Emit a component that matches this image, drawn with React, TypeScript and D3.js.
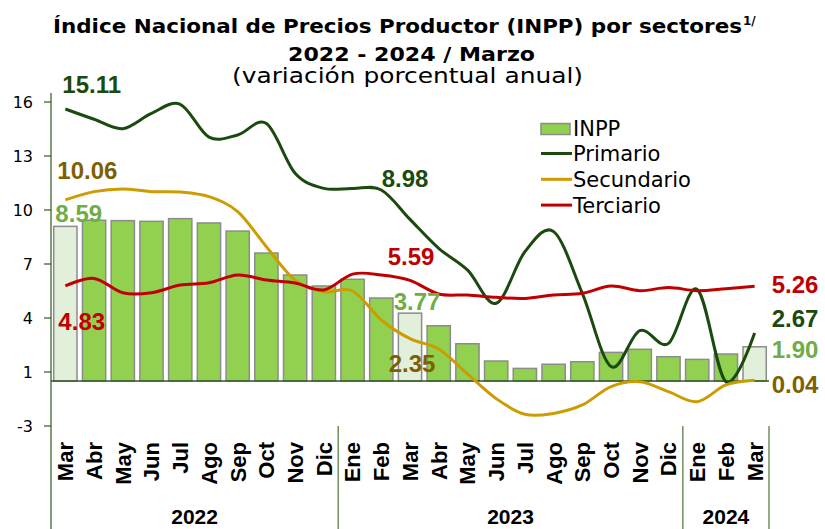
import React from 'react';
import * as d3 from 'd3';

// months shown on the category axis (Mar 2022 .. Mar 2024)
const months = ['Mar', 'Abr', 'May', 'Jun', 'Jul', 'Ago', 'Sep', 'Oct', 'Nov', 'Dic',
  'Ene', 'Feb', 'Mar', 'Abr', 'May', 'Jun', 'Jul', 'Ago', 'Sep', 'Oct', 'Nov', 'Dic',
  'Ene', 'Feb', 'Mar'];
const yearLabels = ['2022', '2023', '2024'];
const yearSpans = [10, 12, 3];

// annual % change
const inpp = [8.59, 8.93, 8.91, 8.87, 9.02, 8.78, 8.33, 7.11, 5.89, 5.28, 5.65, 4.61, 3.77,
  3.07, 2.07, 1.11, 0.70, 0.93, 1.07, 1.59, 1.76, 1.35, 1.20, 1.50, 1.90];
const primario = [15.11, 14.54, 14.02, 14.87, 15.37, 13.55, 13.67, 14.3, 11.54, 10.7, 10.7,
  10.61, 8.98, 7.37, 6.17, 4.32, 7.18, 8.3, 4.87, 0.8, 2.8, 2.09, 5.09, -0.04, 2.67];
const secundario = [10.06, 10.52, 10.67, 10.52, 10.5, 10.24, 9.41, 7.46, 5.6, 4.96, 5.0,
  3.39, 2.35, 1.78, 0.39, -0.98, -1.85, -1.8, -1.33, -0.31, -0.04, -0.59, -1.15, -0.22, 0.04];
const terciario = [5.28, 5.7, 4.9, 4.9, 5.33, 5.46, 5.89, 5.61, 5.44, 5.06, 5.94, 5.89, 5.59,
  4.83, 4.78, 4.65, 4.59, 4.78, 4.87, 5.28, 5.02, 5.19, 5.02, 5.13, 5.26];

const yTickValues = [-2.5, 0.5, 3.5, 6.5, 9.5, 12.5, 15.5];
const yTickLabels = ['-3', '1', '4', '7', '10', '13', '16'];
const paleBars = [0, 12, 24];

const W = 825;
const H = 529;

const colors = {
  bar: '#92d050',
  barPale: '#e2efda',
  barStroke: '#8c8c8c',
  primario: '#1b4a0e',
  secundario: '#cc9c00',
  terciario: '#c00000',
  secLabel: '#7f6000',
  inppLabel: '#70ad47',
  axis: '#2e5a1c',
  sep: '#6f8f5f',
};

const seriesValues: Record<string, number[]> = { inpp, primario, secundario, terciario };

// value labels: which point, and where the text sits relative to it
const valueLabels = [
  { s: 'primario', i: 0, text: '15.11', dx: -3, dy: -16, anchor: 'start', color: colors.primario },
  { s: 'secundario', i: 0, text: '10.06', dx: -8, dy: -21, anchor: 'start', color: colors.secLabel },
  { s: 'inpp', i: 0, text: '8.59', dx: -10, dy: -4, anchor: 'start', color: colors.inppLabel },
  { s: 'terciario', i: 0, text: '4.83', dx: -7, dy: 44, anchor: 'start', color: colors.terciario },
  { s: 'primario', i: 12, text: '8.98', dx: -5, dy: -32, anchor: 'middle', color: colors.primario },
  { s: 'terciario', i: 12, text: '5.59', dx: 1, dy: -15, anchor: 'middle', color: colors.terciario },
  { s: 'inpp', i: 12, text: '3.77', dx: 7, dy: -3, anchor: 'middle', color: colors.inppLabel },
  { s: 'secundario', i: 12, text: '2.35', dx: 2, dy: 33, anchor: 'middle', color: colors.secLabel },
  { s: 'terciario', i: 24, text: '5.26', dx: 17, dy: 7, anchor: 'start', color: colors.terciario },
  { s: 'primario', i: 24, text: '2.67', dx: 17, dy: -6, anchor: 'start', color: colors.primario },
  { s: 'inpp', i: 24, text: '1.90', dx: 17, dy: 11, anchor: 'start', color: colors.inppLabel },
  { s: 'secundario', i: 24, text: '0.04', dx: 17, dy: 13, anchor: 'start', color: colors.secLabel },
];

const App = () => {
  const x = d3.scaleBand<number>()
    .domain(d3.range(months.length))
    .range([51, 769])
    .paddingInner(0.19)
    .paddingOuter(0.095);
  const y = d3.scaleLinear().domain([-2.5, 16]).range([426, 93]);
  const cx = (i: number) => (x(i) as number) + x.bandwidth() / 2;

  const line = d3.line<number>()
    .x((_, i) => cx(i))
    .y(d => y(d))
    .curve(d3.curveCardinal.tension(0));

  const step = x.step();
  const x0 = x.range()[0];
  const ends = Array.from(d3.cumsum(yearSpans));
  const bounds = ends.map(n => x0 + n * step);
  const starts = [0, ...ends];

  const lineSeries = [
    { name: 'Primario', data: primario, color: colors.primario },
    { name: 'Secundario', data: secundario, color: colors.secundario },
    { name: 'Terciario', data: terciario, color: colors.terciario },
  ];

  const labelFont = '"Liberation Sans", Arial, sans-serif';

  return (
    <svg width={W} height={H} style={{ position: 'absolute', left: 0, top: 0, background: '#fff' }}>
      {/* titles */}
      <g fontFamily='"DejaVu Sans", sans-serif' fill="#000">
        <text x={53} y={33} fontSize={19} fontWeight="bold" textLength={689} lengthAdjust="spacingAndGlyphs">
          Índice Nacional de Precios Productor (INPP) por sectores
        </text>
        <text x={743} y={25} fontSize={12} fontWeight="bold">1/</text>
        <text x={288} y={61} fontSize={19} fontWeight="bold" textLength={247} lengthAdjust="spacingAndGlyphs">
          2022 - 2024 / Marzo
        </text>
        <text x={232} y={83} fontSize={21} textLength={351} lengthAdjust="spacingAndGlyphs">
          (variación porcentual anual)
        </text>
      </g>

      {/* y axis */}
      <line x1={x0} x2={x0} y1={y(16)} y2={H} stroke={colors.axis} strokeWidth={1.2} />
      {yTickValues.map((v, k) => (
        <g key={k}>
          <line x1={44} x2={x0} y1={y(v)} y2={y(v)} stroke={colors.axis} strokeWidth={1.2} />
          <text x={33} y={y(v) + 6} textAnchor="end" fontSize={16}
            fontFamily='"DejaVu Sans", sans-serif' fill="#000">{yTickLabels[k]}</text>
        </g>
      ))}

      {/* bars */}
      {inpp.map((v, i) => (
        <rect key={i} x={x(i)} y={y(v)} width={x.bandwidth()} height={y(0) - y(v)}
          fill={paleBars.includes(i) ? colors.barPale : colors.bar}
          stroke={colors.barStroke} strokeWidth={1.5} />
      ))}

      {/* category axis line */}
      <line x1={x0} x2={x.range()[1]} y1={y(0)} y2={y(0)} stroke={colors.axis} strokeWidth={1.5} />

      {/* lines */}
      {lineSeries.map(s => (
        <path key={s.name} d={line(s.data) || ''} fill="none" stroke={s.color} strokeWidth={3} />
      ))}

      {/* value labels */}
      {valueLabels.map((l, k) => {
        const v = seriesValues[l.s][l.i];
        return (
          <text key={k} x={cx(l.i) + l.dx} y={y(v) + l.dy} textAnchor={l.anchor}
            fontSize={24} fontWeight="bold" fontFamily={labelFont} fill={l.color}>{l.text}</text>
        );
      })}

      {/* month labels */}
      {months.map((m, i) => (
        <text key={i} transform={`translate(${cx(i)},442) rotate(-90)`} textAnchor="end" dy="0.36em"
          fontSize={22} fontWeight="bold" fontFamily={labelFont} fill="#000">{m}</text>
      ))}

      {/* year groups */}
      {bounds.map((b, k) => (
        <line key={k} x1={b} x2={b} y1={y(-2.5)} y2={H} stroke={colors.sep} strokeWidth={1.5} />
      ))}
      {yearLabels.map((yl, k) => (
        <text key={yl} x={x0 + (starts[k] + yearSpans[k] / 2) * step} y={524} textAnchor="middle"
          fontSize={21} fontWeight="bold" fontFamily={labelFont} fill="#000">{yl}</text>
      ))}

      {/* legend */}
      <g fontFamily='"DejaVu Sans", sans-serif' fontSize={21} fill="#000">
        <rect x={541} y={123.5} width={29} height={11} fill={colors.bar} stroke={colors.barStroke} strokeWidth={1.5} />
        <text x={573} y={136}>INPP</text>
        {lineSeries.map((s, k) => (
          <g key={s.name}>
            <line x1={541} x2={572} y1={153.5 + k * 25.8} y2={153.5 + k * 25.8} stroke={s.color} strokeWidth={3} />
            <text x={573} y={161 + k * 25.8}>{s.name}</text>
          </g>
        ))}
      </g>
    </svg>
  );
};

export default App;
